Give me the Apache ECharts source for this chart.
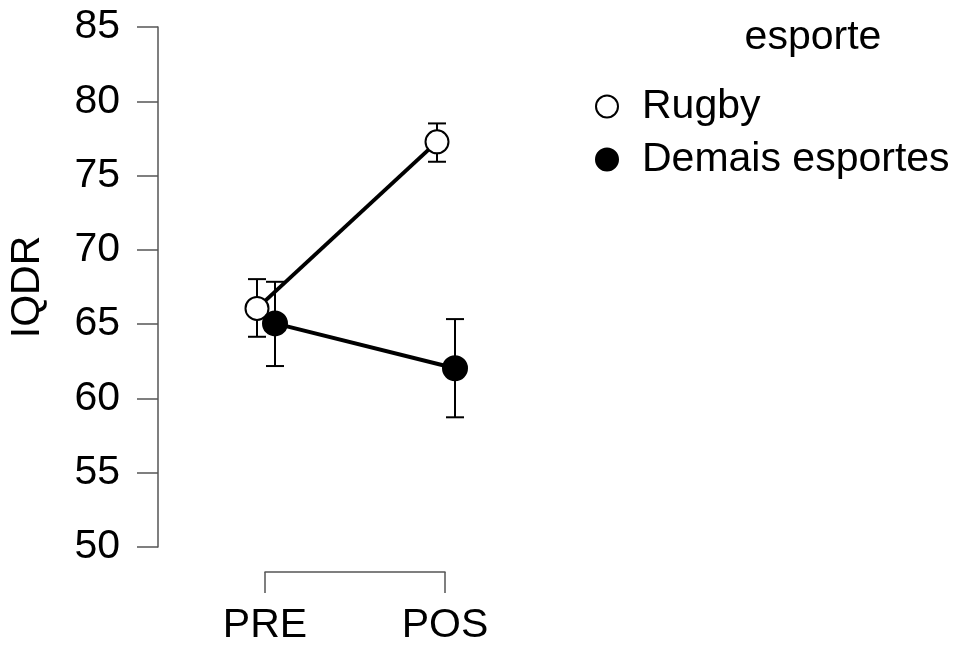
<!DOCTYPE html>
<html>
<head>
<meta charset="utf-8">
<script src="https://cdn.jsdelivr.net/npm/echarts@6/dist/echarts.min.js"></script>
<style>
  html, body { margin: 0; padding: 0; background: #fff; }
  #chart { width: 956px; height: 646px; }
</style>
</head>
<body>
<div id="chart"></div>
<script>
// momentos (x positions 1 and 2)
var momentos = ["PRE", "POS"];
var yTicks = [50, 55, 60, 65, 70, 75, 80, 85];

// media e intervalo por grupo
var rugbyMedia = [66.06, 77.27];
var rugbyLow = [64.15, 75.93];
var rugbyHigh = [68.03, 78.51];

var demaisMedia = [65.05, 62.03];
var demaisLow = [62.18, 58.73];
var demaisHigh = [67.85, 65.34];

var dodge = 0.05;
var fonte = "'Liberation Sans', Arial, sans-serif";

function pontos(media, shift) {
  return media.map(function (v, i) { return [i + 1 + shift, v]; });
}
function barras(low, high, shift) {
  return low.map(function (v, i) { return [i + 1 + shift, v, high[i]]; });
}

function renderErro(params, api) {
  var top = api.coord([api.value(0), api.value(2)]);
  var bot = api.coord([api.value(0), api.value(1)]);
  var hw = 9;
  var st = { stroke: "#000", lineWidth: 2 };
  return {
    type: "group",
    children: [
      { type: "line", shape: { x1: top[0], y1: top[1], x2: bot[0], y2: bot[1] }, style: st },
      { type: "line", shape: { x1: top[0] - hw, y1: top[1], x2: top[0] + hw, y2: top[1] }, style: st },
      { type: "line", shape: { x1: bot[0] - hw, y1: bot[1], x2: bot[0] + hw, y2: bot[1] }, style: st }
    ]
  };
}

var myChart = echarts.init(document.getElementById("chart"));
myChart.setOption({
  animation: false,
  textStyle: { fontFamily: fonte },
  grid: [
    { left: 158, top: 27, width: 396, bottom: 99 },
    // bracket do eixo x
    { left: 265, width: 180, top: 560, height: 13 }
  ],
  xAxis: [
    { gridIndex: 0, type: "value", min: 0.4, max: 2.6, show: false },
    {
      gridIndex: 1,
      type: "category",
      data: momentos,
      boundaryGap: false,
      axisLine: { show: true, lineStyle: { color: "#555", width: 1.5 } },
      axisTick: { show: true, inside: false, length: 21, lineStyle: { color: "#555", width: 1.5 } },
      axisLabel: { color: "#000", fontSize: 41, margin: 33, fontFamily: fonte },
      splitLine: { show: false }
    }
  ],
  yAxis: [
    {
      gridIndex: 0,
      type: "value",
      min: 50,
      max: 85,
      interval: 5,
      name: "IQDR",
      nameLocation: "middle",
      nameGap: 110,
      nameTextStyle: { color: "#000", fontSize: 41, fontFamily: fonte },
      axisLine: { show: true, lineStyle: { color: "#555", width: 1.5 } },
      axisTick: { show: true, length: 21, lineStyle: { color: "#555", width: 1.5 } },
      axisLabel: {
        color: "#000",
        fontSize: 41,
        margin: 38,
        fontFamily: fonte,
        formatter: function (v) { return yTicks.indexOf(v) >= 0 ? String(v) : ""; }
      },
      splitLine: { show: false }
    },
    { gridIndex: 1, type: "value", show: false }
  ],
  legend: {
    orient: "vertical",
    left: 590,
    top: 81,
    icon: "circle",
    itemWidth: 22,
    itemHeight: 22,
    itemGap: 12,
    data: ["Rugby", "Demais esportes"],
    textStyle: { color: "#000", fontSize: 41, lineHeight: 41, fontFamily: fonte, padding: [0, 0, 0, 19] }
  },
  graphic: [
    {
      type: "text",
      style: { text: "esporte", x: 813, y: 38, textAlign: "center", textVerticalAlign: "middle", fontSize: 41, fontFamily: fonte, fill: "#000" }
    }
  ],
  series: [
    {
      type: "custom",
      name: "erroRugby",
      renderItem: renderErro,
      data: barras(rugbyLow, rugbyHigh, -dodge),
      encode: { x: 0, y: [1, 2] },
      z: 1
    },
    {
      type: "custom",
      name: "erroDemais",
      renderItem: renderErro,
      data: barras(demaisLow, demaisHigh, dodge),
      encode: { x: 0, y: [1, 2] },
      z: 1
    },
    {
      type: "line",
      name: "Rugby",
      data: pontos(rugbyMedia, -dodge),
      symbol: "circle",
      symbolSize: 23,
      showAllSymbol: true,
      lineStyle: { color: "#000", width: 4 },
      itemStyle: { color: "#fff", borderColor: "#000", borderWidth: 2 },
      z: 2
    },
    {
      type: "line",
      name: "Demais esportes",
      data: pontos(demaisMedia, dodge),
      symbol: "circle",
      symbolSize: 24,
      showAllSymbol: true,
      lineStyle: { color: "#000", width: 4 },
      itemStyle: { color: "#000", borderColor: "#000", borderWidth: 2 },
      z: 3
    }
  ]
});
window.addEventListener("resize", function () {
  myChart.resize();
});
</script>
</body>
</html>
